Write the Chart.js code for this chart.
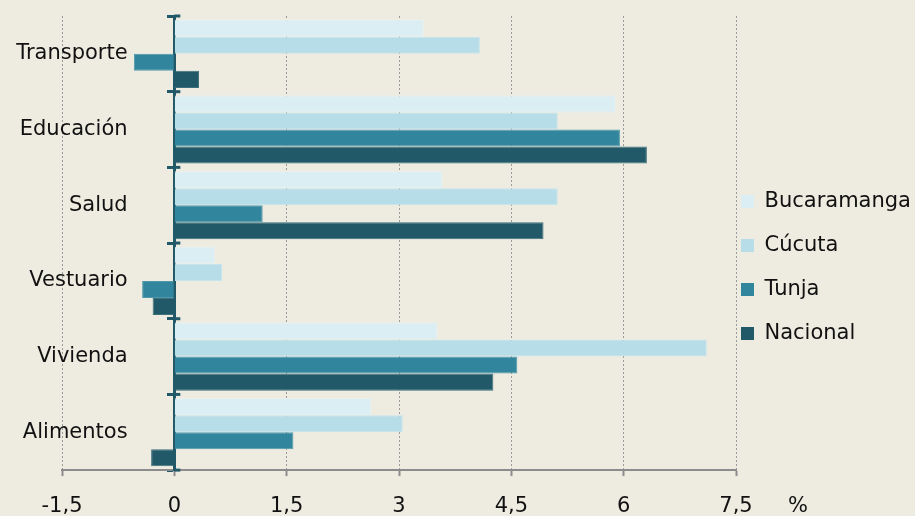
<!DOCTYPE html>
<html>
<head>
<meta charset="utf-8">
<script src="https://cdn.jsdelivr.net/npm/chart.js@4.4.0/dist/chart.umd.min.js"></script>
<style>
  html, body { margin: 0; padding: 0; background: #eeece1; }
  #wrap { width: 915px; height: 516px; }
</style>
</head>
<body>
<div id="wrap"><canvas id="myBarChart" width="915" height="516"></canvas></div>
<script>
// Data (% change)
var categories = ['Transporte', 'Educación', 'Salud', 'Vestuario', 'Vivienda', 'Alimentos'];
var bucaramanga = [3.33, 5.89, 3.58, 0.54, 3.51, 2.63];
var cucuta = [4.08, 5.12, 5.12, 0.64, 7.11, 3.05];
var tunja = [-0.54, 5.95, 1.18, -0.43, 4.58, 1.59];
var nacional = [0.33, 6.31, 4.93, -0.29, 4.26, -0.31];
var xTicks = [-1.5, 0, 1.5, 3, 4.5, 6, 7.5];

var font = 'DejaVu Sans';
var axisColor = '#215968';

// draws the right half of the cross ticks on the zero axis and the "%" label
var extras = {
    id: 'extras',
    afterDraw: function (chart) {
        var ctx = chart.ctx;
        var x = chart.scales.x, y = chart.scales.y;
        var x0 = x.getPixelForValue(0);
        var step = (y.bottom - y.top) / categories.length;
        ctx.save();
        ctx.strokeStyle = axisColor;
        ctx.lineWidth = 3;
        for (var i = 0; i <= categories.length; i++) {
            var py = y.top + i * step;
            ctx.beginPath();
            ctx.moveTo(x0, py);
            ctx.lineTo(x0 + 6, py);
            ctx.stroke();
        }
        ctx.fillStyle = '#111';
        ctx.font = '21px "' + font + '"';
        ctx.textAlign = 'center';
        ctx.textBaseline = 'middle';
        ctx.fillText('%', x.right + 62, x.top + 36);
        ctx.restore();
    }
};

var data = {
    labels: categories,
    datasets: [
        { label: 'Bucaramanga', data: bucaramanga, backgroundColor: '#dbeef4', borderColor: '#e4f2f6', borderWidth: 1 },
        { label: 'Cúcuta', data: cucuta, backgroundColor: '#b7dde8', borderColor: '#c6e4ee', borderWidth: 1 },
        { label: 'Tunja', data: tunja, backgroundColor: '#31859c', borderColor: '#4f98ac', borderWidth: 1 },
        { label: 'Nacional', data: nacional, backgroundColor: '#215968', borderColor: '#3d6f7c', borderWidth: 1 }
    ]
};

var ctx = document.getElementById('myBarChart').getContext('2d');
var myBarChart = new Chart(ctx, {
    type: 'bar',
    data: data,
    plugins: [extras],
    options: {
        indexAxis: 'y',
        responsive: false,
        animation: false,
        categoryPercentage: 0.9,
        barPercentage: 1,
        // the x axis reserves its tick padding twice, so pull the bottom back
        layout: { padding: { left: 62, top: 16, right: 0, bottom: -21 } },
        plugins: {
            tooltip: { enabled: false },
            legend: {
                position: 'right',
                maxWidth: 179,
                labels: {
                    color: '#111',
                    font: { family: font, size: 21, lineHeight: '39px' },
                    boxWidth: 13,
                    boxHeight: 13,
                    padding: 5,
                    generateLabels: function (chart) {
                        return Chart.defaults.plugins.legend.labels.generateLabels(chart).map(function (l) {
                            l.text = [l.text];
                            l.lineWidth = 0;
                            return l;
                        });
                    }
                }
            }
        },
        scales: {
            x: {
                min: -1.5,
                max: 7.5,
                afterBuildTicks: function (scale) {
                    scale.ticks = xTicks.map(function (v) { return { value: v }; });
                },
                grid: {
                    color: '#9a9a9a',
                    lineWidth: 1,
                    tickColor: '#8c8c8c',
                    tickLength: 6,
                    tickWidth: 2
                },
                border: { display: true, color: '#8c8c8c', width: 2, dash: [2, 2] },
                ticks: {
                    color: '#111',
                    font: { family: font, size: 21, lineHeight: 0.9 },
                    padding: 21,
                    maxRotation: 0,
                    autoSkip: false,
                    callback: function (v) { return String(v).replace('.', ','); }
                }
            },
            y: {
                position: { x: 0 },
                z: 1,
                grid: {
                    drawOnChartArea: false,
                    drawTicks: true,
                    tickLength: 6,
                    tickWidth: 3,
                    tickColor: axisColor
                },
                border: { display: true, color: axisColor, width: 3 },
                ticks: {
                    color: '#111',
                    font: { family: font, size: 21 },
                    padding: 0,
                    // labels sit left of the zero line, as in the original
                    callback: function (v) { return this.getLabelForValue(v) + '       '; }
                }
            }
        }
    }
});
</script>
</body>
</html>
